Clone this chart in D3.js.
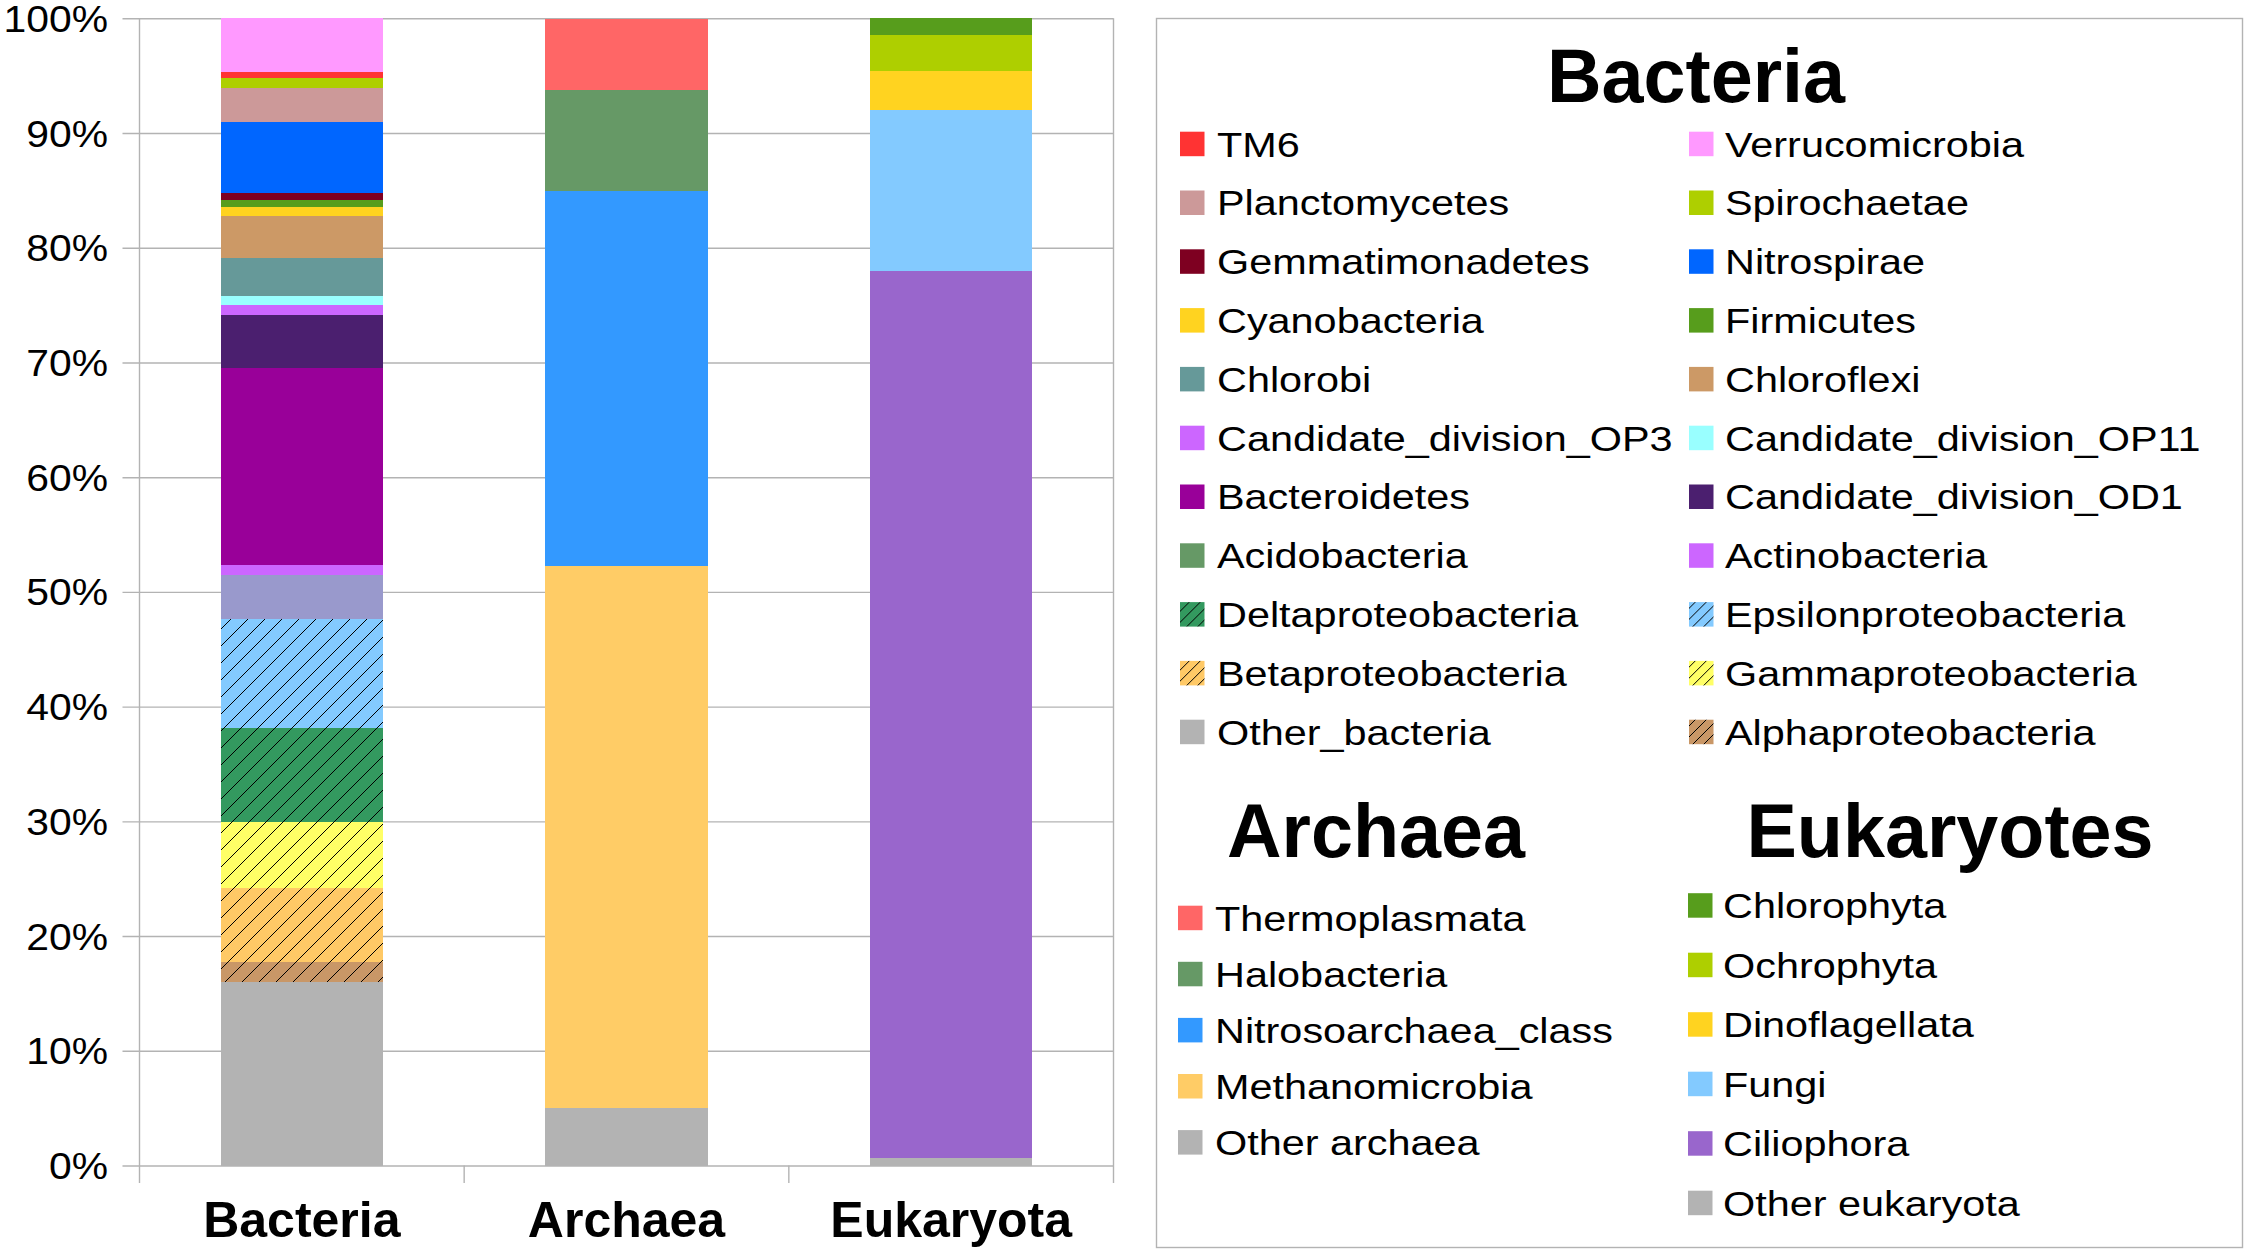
<!DOCTYPE html>
<html><head><meta charset="utf-8">
<script src="https://cdn.jsdelivr.net/npm/d3@7"></script>
<style>
body{margin:0;background:#fff}
svg{display:block;font-family:"Liberation Sans",Arial,sans-serif}
</style>
</head><body><svg id="chart" width="2252" height="1255"></svg>
<script>
// ---------------- DATA ----------------
const categories = ["Bacteria", "Archaea", "Eukaryota"];

// stacked bottom -> top
const bacteriaTaxa = ["Other_bacteria","Alphaproteobacteria","Betaproteobacteria","Gammaproteobacteria","Deltaproteobacteria","Epsilonproteobacteria","Acidobacteria","Actinobacteria","Bacteroidetes","Candidate_division_OD1","Candidate_division_OP3","Candidate_division_OP11","Chlorobi","Chloroflexi","Cyanobacteria","Firmicutes","Gemmatimonadetes","Nitrospirae","Planctomycetes","Spirochaetae","TM6","Verrucomicrobia"];
const bacteriaValues = [16.03,1.72,6.45,5.75,8.2,9.53,3.81,0.87,17.17,4.62,0.87,0.81,3.28,3.66,0.78,0.61,0.61,6.19,2.96,0.9,0.52,4.65];

const archaeaTaxa = ["Other archaea","Methanomicrobia","Nitrosoarchaea_class","Halobacteria","Thermoplasmata"];
const archaeaValues = [5.01,47.25,32.65,8.8,6.25];

const eukaryotaTaxa = ["Other eukaryota","Ciliophora","Fungi","Dinoflagellata","Ochrophyta","Chlorophyta"];
const eukaryotaValues = [0.65,77.35,14.04,3.4,3.14,1.42];

const yTicks = [0,10,20,30,40,50,60,70,80,90,100];

const bacteriaLegendLeft = ["TM6","Planctomycetes","Gemmatimonadetes","Cyanobacteria","Chlorobi","Candidate_division_OP3","Bacteroidetes","Acidobacteria","Deltaproteobacteria","Betaproteobacteria","Other_bacteria"];
const bacteriaLegendRight = ["Verrucomicrobia","Spirochaetae","Nitrospirae","Firmicutes","Chloroflexi","Candidate_division_OP11","Candidate_division_OD1","Actinobacteria","Epsilonproteobacteria","Gammaproteobacteria","Alphaproteobacteria"];
const archaeaLegend = ["Thermoplasmata","Halobacteria","Nitrosoarchaea_class","Methanomicrobia","Other archaea"];
const eukaryotaLegend = ["Chlorophyta","Ochrophyta","Dinoflagellata","Fungi","Ciliophora","Other eukaryota"];

const hatchedTaxa = ["Alphaproteobacteria","Betaproteobacteria","Gammaproteobacteria","Deltaproteobacteria","Epsilonproteobacteria"];

// ---------------- STYLES ----------------
const colors = {
  "Other_bacteria":"#b3b3b3","Alphaproteobacteria":"#c99767","Betaproteobacteria":"#ffc966","Gammaproteobacteria":"#ffff66",
  "Deltaproteobacteria":"#33995f","Epsilonproteobacteria":"#83caff","Acidobacteria":"#669966","Actinobacteria":"#cc66ff",
  "Bacteroidetes":"#990099","Candidate_division_OD1":"#4b1f6f","Candidate_division_OP3":"#cc66ff","Candidate_division_OP11":"#99ffff",
  "Chlorobi":"#669999","Chloroflexi":"#cc9966","Cyanobacteria":"#ffd320","Firmicutes":"#579d1c","Gemmatimonadetes":"#7e0021",
  "Nitrospirae":"#0066ff","Planctomycetes":"#cc9999","Spirochaetae":"#aecf00","TM6":"#ff3333","Verrucomicrobia":"#ff99ff",
  "Other archaea":"#b3b3b3","Methanomicrobia":"#ffcc66","Nitrosoarchaea_class":"#3399ff","Halobacteria":"#669966","Thermoplasmata":"#ff6666",
  "Other eukaryota":"#b3b3b3","Ciliophora":"#9966cc","Fungi":"#83caff","Dinoflagellata":"#ffd320","Ochrophyta":"#aecf00","Chlorophyta":"#579d1c"
};
const barColorOverride = {"Acidobacteria":"#9999cc"};
const gridColor = "#b3b3b3";
const FONT_STRETCH = 1.12;

// ---------------- CHART ----------------
const svg = d3.select("#chart");
svg.append("rect").attr("width",2252).attr("height",1255).attr("fill","#fff");

const defs = svg.append("defs");
function makePattern(id, color, size){
  const p = defs.append("pattern").attr("id",id).attr("patternUnits","userSpaceOnUse")
    .attr("width",size).attr("height",size);
  p.append("rect").attr("width",size).attr("height",size).attr("fill",color);
  p.append("path").attr("d",`M0,${size} L${size},0 M${-size/4},${size/4} L${size/4},${-size/4} M${size*0.75},${size*1.25} L${size*1.25},${size*0.75}`)
    .attr("stroke","#000").attr("stroke-width",1);
}
function safe(n){ return n.replace(/[^A-Za-z0-9]/g,"_"); }
hatchedTaxa.forEach(t => { makePattern("hb_"+safe(t), colors[t], 17); makePattern("hl_"+safe(t), colors[t], 11); });

function fillFor(name, legend){
  if (hatchedTaxa.includes(name)) return `url(#${legend ? "hl_" : "hb_"}${safe(name)})`;
  if (!legend && barColorOverride[name]) return barColorOverride[name];
  return colors[name];
}

const plotLeft = 139.5, plotRight = 1113.5, plotTop = 18.3, plotBottom = 1165.5, axisExtend = 1183;
const x = d3.scaleBand().domain(categories).range([plotLeft, plotRight]).paddingInner(0.5).paddingOuter(0.25);
const y = d3.scaleLinear().domain([0,100]).range([plotBottom, plotTop]);

// grid lines
const grid = svg.append("g").attr("transform",`translate(${plotRight},0)`)
  .call(d3.axisLeft(y).tickValues(yTicks).tickSize(plotRight - 122.5).tickFormat(""));
grid.select(".domain").remove();
grid.selectAll("line").attr("stroke",gridColor).attr("stroke-width",1.4);

// y tick labels
const yAxis = svg.append("g").attr("transform",`translate(${plotLeft},0)`)
  .call(d3.axisLeft(y).tickValues(yTicks).tickSize(0).tickPadding(0).tickFormat(d => d + "%"));
yAxis.select(".domain").remove();
yAxis.selectAll(".tick text")
  .attr("x",0).attr("dy",null)
  .attr("transform",`translate(-31.5,13) scale(${FONT_STRETCH},1)`)
  .attr("font-size",36.5).attr("fill","#000").attr("font-family",'"Liberation Sans",Arial,sans-serif');

// bars
const series = [
  {cat:"Bacteria", taxa:bacteriaTaxa, values:bacteriaValues},
  {cat:"Archaea", taxa:archaeaTaxa, values:archaeaValues},
  {cat:"Eukaryota", taxa:eukaryotaTaxa, values:eukaryotaValues}
];
series.forEach(s => {
  const cum = d3.cumsum(s.values);
  const segs = s.taxa.map((t,i) => ({name:t, y0: cum[i]-s.values[i], y1: cum[i]}));
  svg.append("g").selectAll("rect").data(segs).join("rect")
    .attr("x", x(s.cat)).attr("width", x.bandwidth())
    .attr("y", d => y(d.y1)).attr("height", d => y(d.y0) - y(d.y1))
    .attr("fill", d => fillFor(d.name,false))
    .attr("shape-rendering","crispEdges");
});

// axis lines
svg.append("line").attr("x1",plotLeft).attr("x2",plotLeft).attr("y1",plotTop).attr("y2",axisExtend)
  .attr("stroke",gridColor).attr("stroke-width",1.4);
svg.append("line").attr("x1",plotRight).attr("x2",plotRight).attr("y1",plotTop).attr("y2",axisExtend)
  .attr("stroke",gridColor).attr("stroke-width",1.4);
// category separators
const step = x.step();
categories.slice(1).forEach(c => {
  const bx = x(c) - step * x.paddingInner() / 2;
  svg.append("line").attr("x1",bx).attr("x2",bx).attr("y1",plotBottom).attr("y2",axisExtend)
    .attr("stroke",gridColor).attr("stroke-width",1.4);
});

// x labels
const xAxis = svg.append("g").attr("transform",`translate(0,${plotBottom})`)
  .call(d3.axisBottom(x).tickSize(0).tickPadding(0));
xAxis.select(".domain").remove();
xAxis.selectAll(".tick text").attr("y",71.5).attr("dy",null)
  .attr("font-size",50).attr("font-weight","bold").attr("fill","#000")
  .attr("font-family",'"Liberation Sans",Arial,sans-serif');

// ---------------- LEGEND ----------------
const lg = svg.append("g");
lg.append("rect").attr("x",1156.5).attr("y",18.5).attr("width",1086).attr("height",1229)
  .attr("fill","#fff").attr("stroke",gridColor).attr("stroke-width",1.4);

function title(txt, cx, baseline){
  lg.append("text").attr("x",cx).attr("y",baseline).attr("text-anchor","middle")
    .attr("font-size",75.5).attr("font-weight","bold").attr("fill","#000").text(txt);
}
title("Bacteria", 1696, 102);
title("Archaea", 1376, 856.5);
title("Eukaryotes", 1950, 856.5);

function legendColumn(items, sqX, txtX, y0, dy){
  const g = lg.append("g");
  const row = g.selectAll("g").data(items).join("g")
    .attr("transform",(d,i)=>`translate(0,${y0 + dy*i})`);
  row.append("rect").attr("x",sqX).attr("y",-12.3).attr("width",24.5).attr("height",24.5)
    .attr("fill", d => fillFor(d,true));
  row.append("text").attr("transform",`translate(${txtX},12.6) scale(${FONT_STRETCH+0.03},1)`)
    .attr("font-size",36).attr("fill","#000").text(d=>d);
}
legendColumn(bacteriaLegendLeft, 1180, 1217, 144, 58.8);
legendColumn(bacteriaLegendRight, 1689, 1725, 144, 58.8);
legendColumn(archaeaLegend, 1178, 1215, 918, 56.1);
legendColumn(eukaryotaLegend, 1688, 1723, 905.5, 59.5);
</script>
</body></html>
